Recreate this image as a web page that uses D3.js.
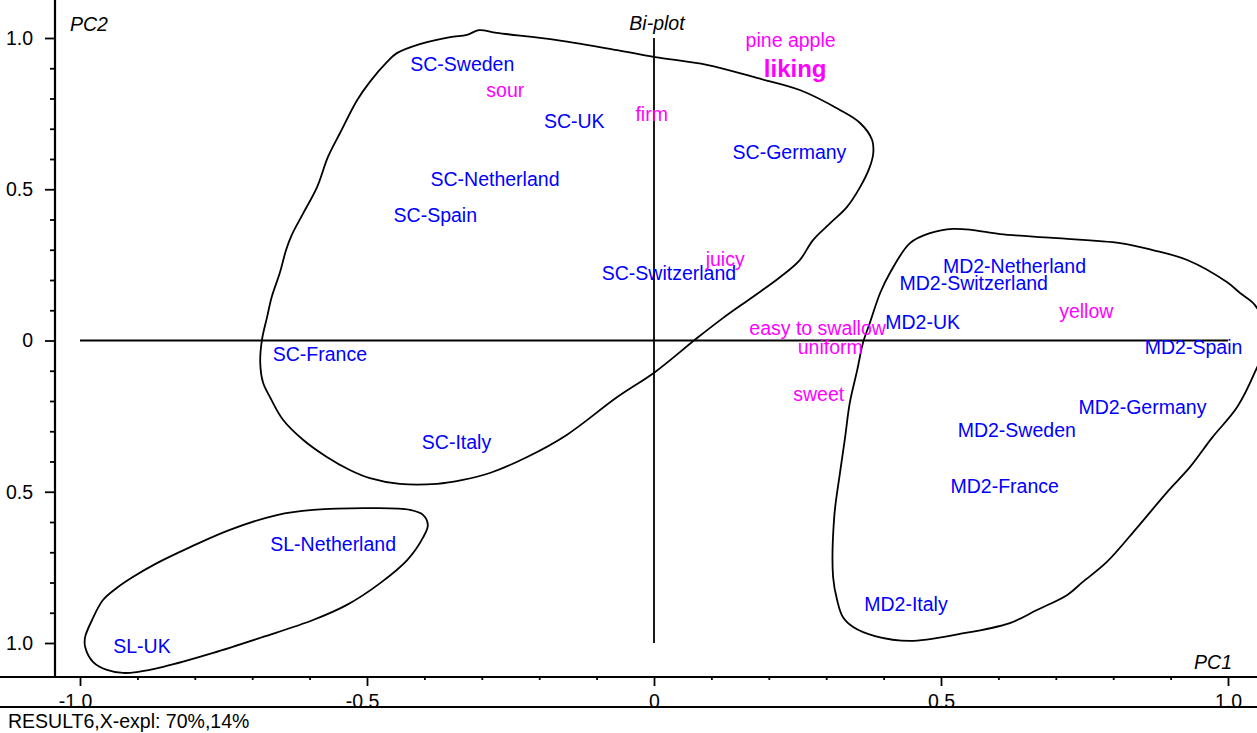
<!DOCTYPE html>
<html>
<head>
<meta charset="utf-8">
<script src="https://cdn.jsdelivr.net/npm/d3@7/dist/d3.min.js"></script>
<style>
  html, body { margin: 0; padding: 0; background: #fff; }
  svg { display: block; font-family: "Liberation Sans", Arial, Helvetica, sans-serif; }
</style>
</head>
<body>
<svg id="chart" width="1257" height="733"></svg>
<script>
// PC1 / PC2 scores of the pineapple samples
const sampleNames = [
  "SC-Sweden", "SC-UK", "SC-Germany", "SC-Netherland", "SC-Spain", "SC-Switzerland",
  "SC-France", "SC-Italy",
  "MD2-Netherland", "MD2-Switzerland", "MD2-UK", "MD2-Spain", "MD2-Germany",
  "MD2-Sweden", "MD2-France", "MD2-Italy",
  "SL-Netherland", "SL-UK"
];
const samplePC1 = [
  -0.334, -0.139, 0.236, -0.277, -0.381, 0.026,
  -0.582, -0.344,
  0.628, 0.557, 0.468, 0.940, 0.851,
  0.632, 0.611, 0.439,
  -0.559, -0.892
];
const samplePC2 = [
  0.915, 0.725, 0.623, 0.532, 0.415, 0.223,
  -0.044, -0.336,
  0.247, 0.188, 0.062, -0.022, -0.221,
  -0.296, -0.480, -0.871,
  -0.672, -1.011
];

// Sensory attribute loadings
const attrNames = ["pine apple", "liking", "sour", "firm", "juicy", "easy to swallow", "uniform", "sweet", "yellow"];
const attrPC1 = [0.238, 0.246, -0.259, -0.004, 0.124, 0.285, 0.307, 0.287, 0.753];
const attrPC2 = [0.994, 0.898, 0.827, 0.749, 0.269, 0.041, -0.022, -0.176, 0.097];
const attrBold = ["liking"];

// Axis ticks
const pc1Major = [-1, -0.5, 0, 0.5, 1];
const pc1MajorLabels = ["-1.0", "-0.5", "0", "0.5", "1.0"];
const pc2Major = [1, 0.5, 0, -0.5, -1];
const pc2MajorLabels = ["1.0", "0.5", "0", "0.5", "1.0"];
const minorTicks = [-0.9, -0.8, -0.7, -0.6, -0.4, -0.3, -0.2, -0.1, 0.1, 0.2, 0.3, 0.4, 0.6, 0.7, 0.8, 0.9];

// Hand-drawn group outlines, as [PC1, PC2] pairs
const scGroup = [
  [-0.305, 1.026], [-0.274, 1.017], [-0.169, 0.993], [-0.064, 0.960], [0.002, 0.937],
  [0.092, 0.911], [0.179, 0.868], [0.254, 0.828], [0.324, 0.762], [0.359, 0.719],
  [0.380, 0.663], [0.382, 0.620], [0.376, 0.574], [0.359, 0.507], [0.336, 0.441],
  [0.307, 0.388], [0.277, 0.332], [0.254, 0.266], [0.220, 0.210], [0.172, 0.144],
  [0.120, 0.074], [0.075, 0.008], [0.002, -0.104], [-0.064, -0.187], [-0.152, -0.312],
  [-0.221, -0.385], [-0.286, -0.438], [-0.333, -0.461], [-0.378, -0.474], [-0.443, -0.474],
  [-0.495, -0.455], [-0.530, -0.428], [-0.570, -0.385], [-0.611, -0.329], [-0.646, -0.263],
  [-0.669, -0.187], [-0.681, -0.140], [-0.686, -0.074], [-0.683, 0.002], [-0.674, 0.078],
  [-0.666, 0.144], [-0.652, 0.223], [-0.641, 0.299], [-0.631, 0.349], [-0.611, 0.421],
  [-0.587, 0.507], [-0.568, 0.607], [-0.547, 0.686], [-0.517, 0.795], [-0.495, 0.855],
  [-0.465, 0.921], [-0.448, 0.950], [-0.408, 0.980], [-0.355, 1.003], [-0.326, 1.010]
];
const md2Group = [
  [0.481, 0.355], [0.521, 0.369], [0.556, 0.365], [0.603, 0.352], [0.695, 0.339],
  [0.812, 0.322], [0.869, 0.299], [0.929, 0.266], [0.998, 0.193], [1.021, 0.157],
  [1.047, 0.117], [1.070, 0.018], [1.047, -0.104], [1.016, -0.220], [0.972, -0.322],
  [0.934, -0.418], [0.894, -0.501], [0.841, -0.620], [0.789, -0.732], [0.747, -0.798],
  [0.720, -0.841], [0.667, -0.891], [0.620, -0.934], [0.533, -0.970], [0.446, -0.993],
  [0.385, -0.977], [0.347, -0.947], [0.329, -0.914], [0.319, -0.858], [0.312, -0.782],
  [0.314, -0.583], [0.324, -0.438], [0.333, -0.319], [0.341, -0.207], [0.354, -0.098],
  [0.364, -0.008], [0.376, 0.058], [0.394, 0.157], [0.411, 0.223], [0.446, 0.322]
];
const slGroup = [
  [-0.425, -0.560], [-0.490, -0.554], [-0.594, -0.560], [-0.657, -0.577], [-0.739, -0.626],
  [-0.808, -0.683], [-0.866, -0.736], [-0.908, -0.782], [-0.936, -0.818], [-0.960, -0.858],
  [-0.979, -0.924], [-0.991, -0.980], [-0.991, -1.013], [-0.977, -1.063], [-0.953, -1.089],
  [-0.925, -1.099], [-0.901, -1.096], [-0.855, -1.079], [-0.768, -1.033], [-0.681, -0.980],
  [-0.594, -0.924], [-0.535, -0.874], [-0.477, -0.802], [-0.430, -0.726], [-0.402, -0.650],
  [-0.394, -0.610], [-0.402, -0.577]
];

const W = 1257, H = 733;
const svg = d3.select("#chart");
const FONT = 19.5;

const x = d3.scaleLinear().domain([-1, 1]).range([80, 1228]);
const y = d3.scaleLinear().domain([-1, 1]).range([643, 38]);

const yAxisX = 55;   // left frame line
const xAxisY = 677;  // bottom frame line
const footerY = 707; // rule above the caption

// Crosshair through the origin
svg.append("line")
  .attr("x1", x(-1)).attr("x2", x(1))
  .attr("y1", y(0)).attr("y2", y(0))
  .attr("stroke", "#000").attr("stroke-width", 1.8);
svg.append("line")
  .attr("x1", x(0)).attr("x2", x(0))
  .attr("y1", y(1)).attr("y2", y(-1))
  .attr("stroke", "#000").attr("stroke-width", 1.8);

// Group outlines
const outline = d3.line()
  .x(d => x(d[0])).y(d => y(d[1]))
  .curve(d3.curveCatmullRomClosed.alpha(0.5));
[scGroup, md2Group, slGroup].forEach(g => {
  svg.append("path")
    .attr("d", outline(g))
    .attr("fill", "none")
    .attr("stroke", "#000")
    .attr("stroke-width", 1.8)
    .attr("stroke-linejoin", "round");
});

// Sample labels
svg.append("g").selectAll("text")
  .data(sampleNames.map((n, i) => ({ name: n, pc1: samplePC1[i], pc2: samplePC2[i] })))
  .join("text")
  .attr("x", d => x(d.pc1))
  .attr("y", d => y(d.pc2))
  .attr("dy", "0.35em")
  .attr("text-anchor", "middle")
  .attr("font-size", FONT)
  .attr("fill", "#0000ff")
  .text(d => d.name);

// Attribute labels
svg.append("g").selectAll("text")
  .data(attrNames.map((n, i) => ({ name: n, pc1: attrPC1[i], pc2: attrPC2[i] })))
  .join("text")
  .attr("x", d => x(d.pc1))
  .attr("y", d => y(d.pc2))
  .attr("dy", "0.35em")
  .attr("text-anchor", "middle")
  .attr("font-size", d => attrBold.includes(d.name) ? 24 : FONT)
  .attr("font-weight", d => attrBold.includes(d.name) ? "bold" : "normal")
  .attr("fill", "#ff00ff")
  .text(d => d.name);

// Left axis: frame line, minor and major ticks
svg.append("line")
  .attr("x1", yAxisX).attr("x2", yAxisX)
  .attr("y1", 0).attr("y2", xAxisY)
  .attr("stroke", "#000").attr("stroke-width", 2.2);

const yMinor = svg.append("g").attr("transform", `translate(${yAxisX},0)`)
  .call(d3.axisLeft(y).tickValues(minorTicks).tickSize(5).tickFormat(""));
const yMajor = svg.append("g").attr("transform", `translate(${yAxisX},0)`)
  .call(d3.axisLeft(y).tickValues(pc2Major).tickSize(10).tickPadding(12)
    .tickFormat((d, i) => pc2MajorLabels[i]));

// Bottom axis
svg.append("line")
  .attr("x1", 0).attr("x2", W)
  .attr("y1", xAxisY).attr("y2", xAxisY)
  .attr("stroke", "#000").attr("stroke-width", 2.2);

const xMinor = svg.append("g").attr("transform", `translate(0,${xAxisY})`)
  .call(d3.axisBottom(x).tickValues(minorTicks).tickSize(3).tickFormat(""));
const xMajor = svg.append("g").attr("transform", `translate(0,${xAxisY})`)
  .call(d3.axisBottom(x).tickValues(pc1Major).tickSize(9).tickPadding(8)
    .tickFormat((d, i) => pc1MajorLabels[i]));
xMajor.selectAll("text").attr("dx", d => d < 0 ? -5 : 0);

[yMinor, yMajor, xMinor, xMajor].forEach(g => {
  g.select(".domain").remove();
  g.selectAll(".tick line").attr("stroke", "#000").attr("stroke-width", 1.8);
  g.selectAll("text")
    .attr("font-size", FONT)
    .attr("font-family", "\"Liberation Sans\", Arial, Helvetica, sans-serif")
    .attr("fill", "#000");
});

// Caption strip: hides the lower edge of the bottom tick labels
svg.append("rect")
  .attr("x", 0).attr("y", footerY - 1)
  .attr("width", W).attr("height", H - footerY + 1)
  .attr("fill", "#fff");
svg.append("line")
  .attr("x1", 0).attr("x2", W)
  .attr("y1", footerY).attr("y2", footerY)
  .attr("stroke", "#000").attr("stroke-width", 2.2);
svg.append("text")
  .attr("x", 8).attr("y", 728)
  .attr("font-size", FONT)
  .attr("fill", "#000")
  .text("RESULT6,X-expl: 70%,14%");

// Axis titles
svg.append("text")
  .attr("x", yAxisX + 15).attr("y", 31)
  .attr("font-size", FONT).attr("font-style", "italic")
  .text("PC2");
svg.append("text")
  .attr("x", x(1) + 4).attr("y", 669)
  .attr("text-anchor", "end")
  .attr("font-size", FONT).attr("font-style", "italic")
  .text("PC1");
svg.append("text")
  .attr("x", x(0) + 3).attr("y", 30)
  .attr("text-anchor", "middle")
  .attr("font-size", FONT).attr("font-style", "italic")
  .text("Bi-plot");
</script>
</body>
</html>
